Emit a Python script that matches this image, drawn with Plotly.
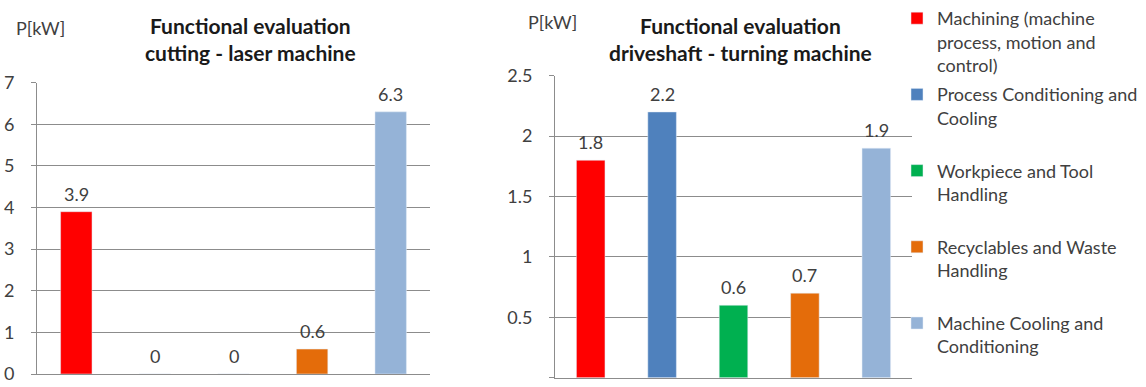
import plotly.graph_objects as go

categories = [
    "Machining (machine<br>process, motion and<br>control)",
    "Process Conditioning and<br>Cooling<br> ",
    "Workpiece and Tool<br>Handling<br> ",
    "Recyclables and Waste<br>Handling<br> ",
    "Machine Cooling and<br>Conditioning",
]
cat_keys = ["Machining", "Process Conditioning", "Workpiece Handling", "Recyclables", "Machine Cooling"]
colors = ["#FF0000", "#4F81BD", "#00B050", "#E46C0A", "#95B3D7"]

laser_values = [3.9, 0, 0, 0.6, 6.3]
turning_values = [1.8, 2.2, 0.6, 0.7, 1.9]

left_title = "Functional evaluation<br>cutting - laser machine"
right_title = "Functional evaluation<br>driveshaft - turning machine"
unit_label = "P[kW]"

W, H = 1146, 387
FONT = "Lato, 'Open Sans', sans-serif"
TXT = "#404040"
GRID = "#8C8C8C"

fig = go.Figure()

for i, (key, name, col) in enumerate(zip(cat_keys, categories, colors)):
    fig.add_trace(go.Bar(
        x=[key], y=[laser_values[i]], name=name, marker_color=col,
        width=0.4, xaxis="x", yaxis="y", showlegend=False, legendgroup=key,
    ))
    fig.add_trace(go.Bar(
        x=[key], y=[turning_values[i]], name=name, marker_color=col,
        width=0.4, xaxis="x2", yaxis="y2", showlegend=True, legendgroup=key,
    ))

annotations = []
# data labels
for xr, yr, vals in [("x", "y", laser_values), ("x2", "y2", turning_values)]:
    for key, v in zip(cat_keys, vals):
        annotations.append(dict(x=key, y=v, xref=xr, yref=yr, text=f"{v:g}", showarrow=False,
                                yanchor="middle", yshift=18,
                                font=dict(family=FONT, size=18, color=TXT)))

# titles
for cx, t in [(250, left_title), (740, right_title)]:
    annotations.append(dict(x=cx / W, y=1 - 38.5 / H, xref="paper", yref="paper",
                            text=f"<b>{t}</b>", showarrow=False,
                            xanchor="center", yanchor="middle",
                            font=dict(family=FONT, size=21, color="#1a1a1a")))
# unit labels
for cx, cy in [(40, 28), (552, 22)]:
    annotations.append(dict(x=cx / W, y=1 - cy / H, xref="paper", yref="paper", text=unit_label,
                            showarrow=False, xanchor="center", yanchor="middle",
                            font=dict(family=FONT, size=18, color=TXT)))

axis_common = dict(showgrid=False, showticklabels=False, ticks="", showline=True,
                   linecolor=GRID, linewidth=1, fixedrange=True, categoryorder="array",
                   categoryarray=cat_keys)
yaxis_common = dict(showgrid=True, gridcolor=GRID, gridwidth=1, zeroline=False,
                    showline=True, linecolor=GRID, linewidth=1, ticks="outside", ticklen=5,
                    tickcolor=GRID, ticklabelstandoff=13, fixedrange=True,
                    tickfont=dict(family=FONT, size=18, color=TXT))

fig.update_layout(
    width=W, height=H,
    margin=dict(l=0, r=0, t=0, b=0, autoexpand=False),
    paper_bgcolor="white", plot_bgcolor="white",
    barmode="overlay",
    xaxis=dict(domain=[37 / W, 430 / W], anchor="y", **axis_common),
    yaxis=dict(domain=[1 - 374 / H, 1 - 82.7 / H], anchor="x", range=[0, 7], dtick=1, **yaxis_common),
    xaxis2=dict(domain=[555 / W, 912 / W], anchor="y2", **axis_common),
    yaxis2=dict(domain=[1 - 377.7 / H, 1 - 75.7 / H], anchor="x2", range=[0, 2.5], dtick=0.5, **yaxis_common),
    legend=dict(x=897 / W, xanchor="left", y=1, yanchor="top", valign="top",
                xref="container", yref="container", maxheight=H,
                tracegroupgap=3, font=dict(family=FONT, size=18, color=TXT),
                bgcolor="rgba(0,0,0,0)"),
    annotations=annotations,
    showlegend=True,
)

fig.write_html("out.html", config={"displayModeBar": False},
               post_script="document.body.style.margin='0';")
